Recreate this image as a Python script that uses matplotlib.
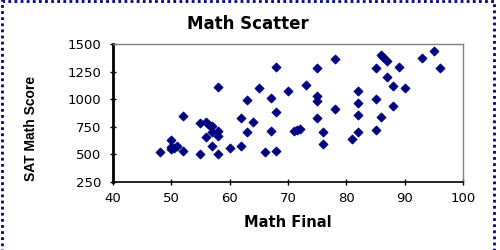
import numpy as np
import matplotlib
matplotlib.use('Agg')
import matplotlib.pyplot as plt
from matplotlib.patches import Rectangle

# data
math_final = [48, 50, 50, 50, 50.5, 51, 52, 52, 55, 55, 56, 56, 56.5, 57,
              57, 57, 58, 58, 58, 58, 60, 62, 62, 63, 63, 64, 65, 66, 67,
              67, 68, 68, 68, 70, 71, 71.5, 72, 73, 75, 75, 75, 75, 76, 76,
              78, 78, 81, 82, 82, 82, 82, 85, 85, 85, 86, 86.3, 87, 87, 86,
              88, 88, 89, 90, 93, 95, 96]
sat_math = [520, 630, 550, 570, 560, 580, 850, 530, 500, 780, 790, 660, 770, 760,
            580, 700, 1110, 710, 670, 500, 560, 830, 580, 990, 700, 790, 1100, 520, 1010,
            710, 1290, 880, 530, 1070, 710, 720, 730, 1130, 1280, 1030, 980, 830, 700, 590,
            1360, 910, 640, 1070, 970, 860, 700, 1280, 1000, 720, 1400, 1385, 1350, 1200, 840,
            1120, 940, 1290, 1100, 1370, 1440, 1280]

navy = '#000080'
plt.rcParams['font.family'] = ['DejaVu Sans']

fig = plt.figure(figsize=(5, 2.5), dpi=100)
ax = fig.add_axes([0.226, 0.272, 0.700, 0.552])
ax.scatter(math_final, sat_math, marker='D', s=22, color=navy, edgecolors=navy, linewidths=0.5, zorder=3)

ax.set_xlim(40, 100)
ax.set_ylim(250, 1500)
ax.set_xticks(np.arange(40, 101, 10))
ax.set_yticks(np.arange(250, 1501, 250))
ax.tick_params(direction='inout', length=5, width=1, labelsize=9.5)
ax.tick_params(axis='y', pad=6)
ax.tick_params(axis='x', pad=5)

for s in ['top', 'right']:
    ax.spines[s].set_color('#808080')
    ax.spines[s].set_linewidth(1)
ax.spines['left'].set_linewidth(2)
ax.spines['bottom'].set_linewidth(1.2)

ax.set_xlabel('Math Final', fontsize=10.5, fontweight='bold', labelpad=7)
ax.set_ylabel('SAT Math Score', fontsize=10, fontweight='bold', family='Liberation Sans')
ax.yaxis.set_label_coords(-0.215, 0.39)
fig.text(0.495, 0.904, 'Math Scatter', ha='center', va='center', fontsize=12, fontweight='bold')

# dotted selection frame round the chart
fig.patches.append(Rectangle((0.003, -0.05), 0.985, 1.046, transform=fig.transFigure,
                             fill=False, edgecolor=navy, linewidth=2, linestyle=(0, (1, 1.2))))

fig.savefig('out.png', dpi=100)
